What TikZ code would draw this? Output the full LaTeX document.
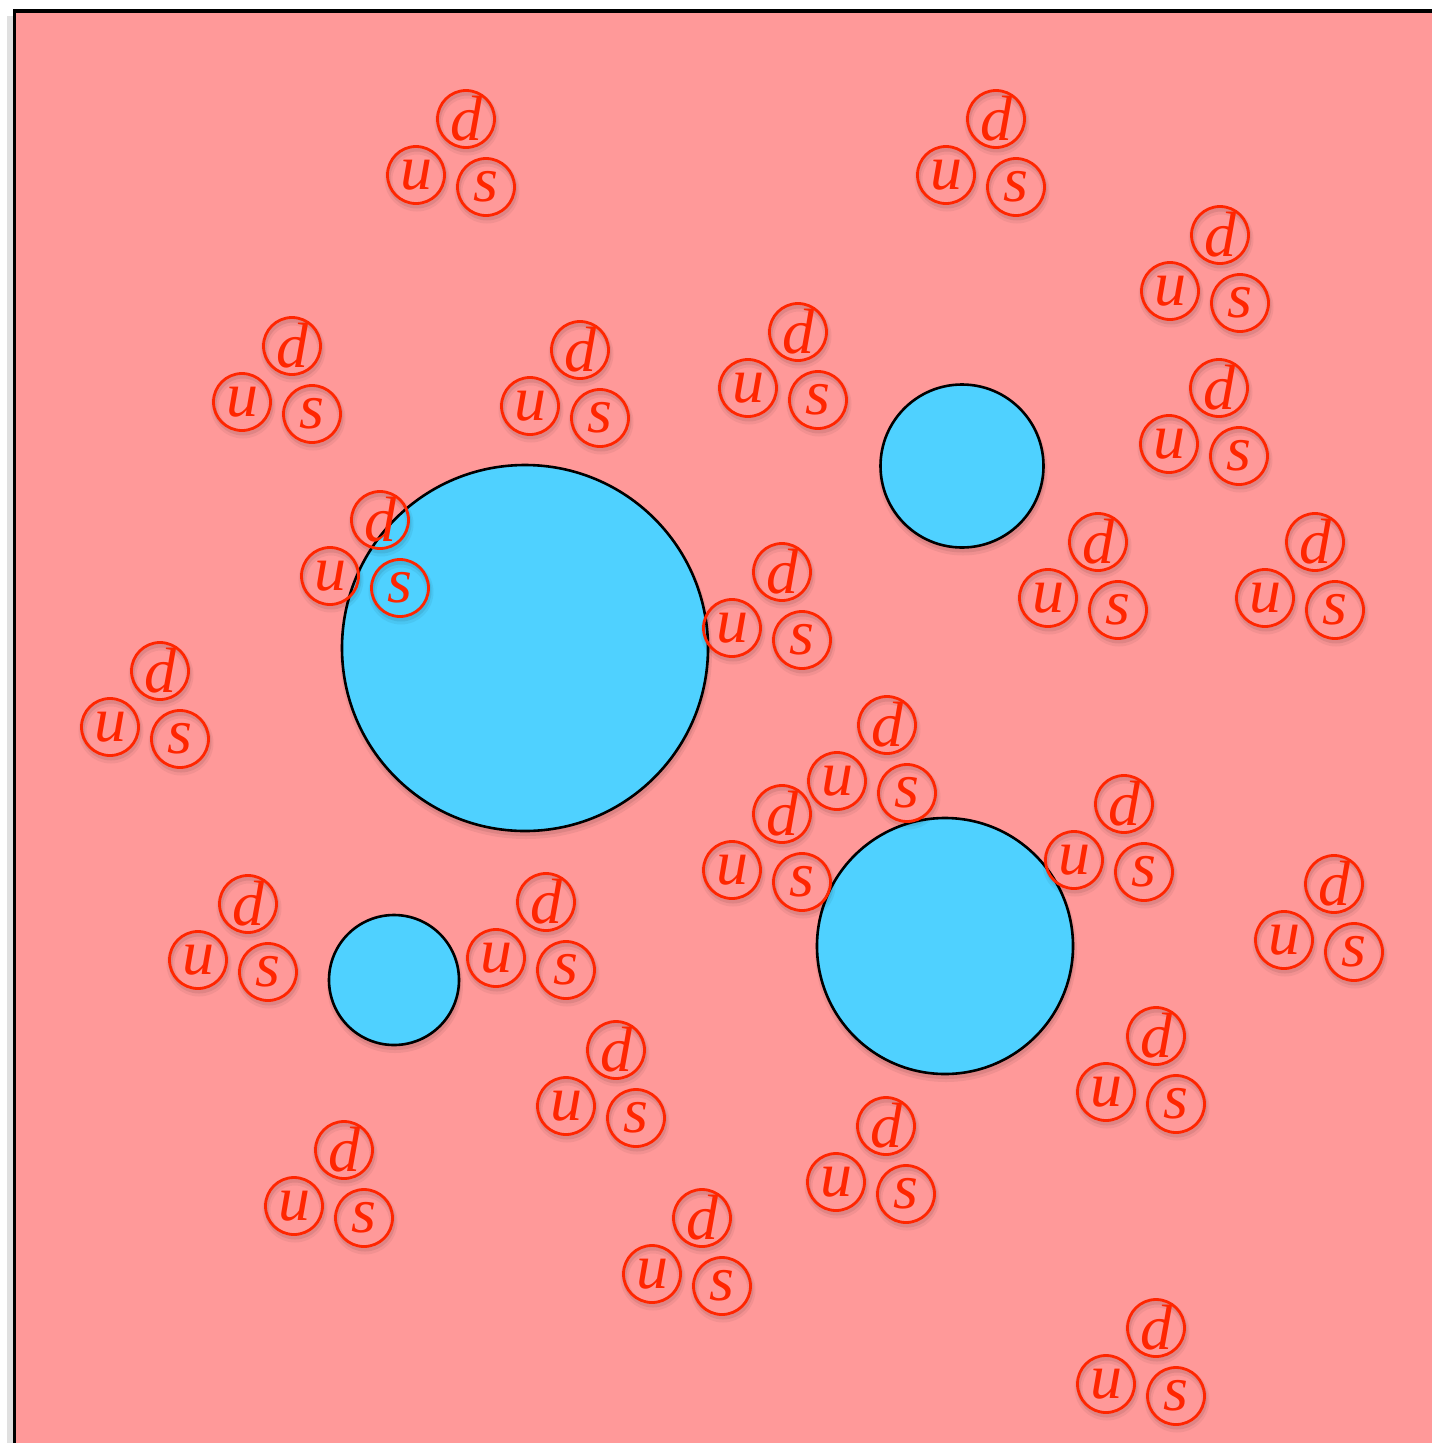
\documentclass[tikz,border=0pt]{standalone}
\usepackage{fontspec}
\setmainfont{Liberation Serif}
\definecolor{bgpink}{RGB}{255,153,153}
\definecolor{qblue}{RGB}{79,209,255}
\definecolor{qred}{RGB}{255,38,0}
\newcommand{\qtrip}[3]{%
  \foreach \dx/\dy in {0/0,-50/56,20/68}{%
    \draw[qshadowa] (#2+\dx+1,#3+\dy+4) circle[radius=28.5];
    \draw[qshadowb] (#2+\dx+1,#3+\dy+3) circle[radius=28.5];
  }%
  \node[quark] (d#1) at (#2,#3) {d};
  \node[quark] (u#1) at (#2-50,#3+56) {u};
  \node[quark] (s#1) at (#2+20,#3+68) {s};
}
\newcommand{\bcirc}[4]{%
  \fill[black,opacity=0.06] (#2+1,#3+5) circle[radius=#4+3];
  \fill[black,opacity=0.08] (#2+1,#3+4) circle[radius=#4+1];
  \node[blob,minimum size=2*#4] (#1) at (#2,#3) {};
}
\begin{document}
\begin{tikzpicture}[x=1pt,y=-1pt,
  quark/.style={circle,draw=qred,line width=2.8pt,minimum size=57pt,inner sep=0pt,
    text=qred,font=\fontsize{64}{64}\selectfont\itshape},
  qshadowa/.style={draw=black,opacity=0.05,line width=8pt},
  qshadowb/.style={draw=black,opacity=0.08,line width=4pt},
  blob/.style={circle,fill=qblue,draw=black,line width=2.6pt,inner sep=0pt}]
\useasboundingbox (0,0) rectangle (1432,1443);
\clip (0,0) rectangle (1432,1443);
\fill[white] (0,0) rectangle (1432,1443);
\draw[black,opacity=0.12,line width=6pt] (10,16) -- (10,1450);
\fill[bgpink] (14,11) rectangle (1450,1460);
\draw[black,line width=3.6pt] (14.5,1460) -- (14.5,11) -- (1450,11);
% blue circles
\bcirc{A}{525}{648}{183}
\bcirc{B}{962}{466}{81.5}
\bcirc{C}{945}{946}{128}
\bcirc{D}{394}{980}{65}
% quark triplets
\qtrip{1}{466}{119}
\qtrip{2}{996}{119}
\qtrip{3}{1220}{235}
\qtrip{4}{292}{346}
\qtrip{5}{580}{350}
\qtrip{6}{798}{332}
\qtrip{7}{1219}{388}
\qtrip{8}{380}{520}
\qtrip{9}{1098}{542}
\qtrip{10}{1315}{542}
\qtrip{11}{782}{572}
\qtrip{12}{160}{671}
\qtrip{13}{887}{725}
\qtrip{14}{782}{814}
\qtrip{15}{1124}{804}
\qtrip{16}{1334}{884}
\qtrip{17}{248}{904}
\qtrip{18}{546}{902}
\qtrip{19}{616}{1050}
\qtrip{20}{1156}{1036}
\qtrip{21}{344}{1150}
\qtrip{22}{886}{1126}
\qtrip{23}{702}{1218}
\qtrip{24}{1156}{1328}
\end{tikzpicture}
\end{document}
